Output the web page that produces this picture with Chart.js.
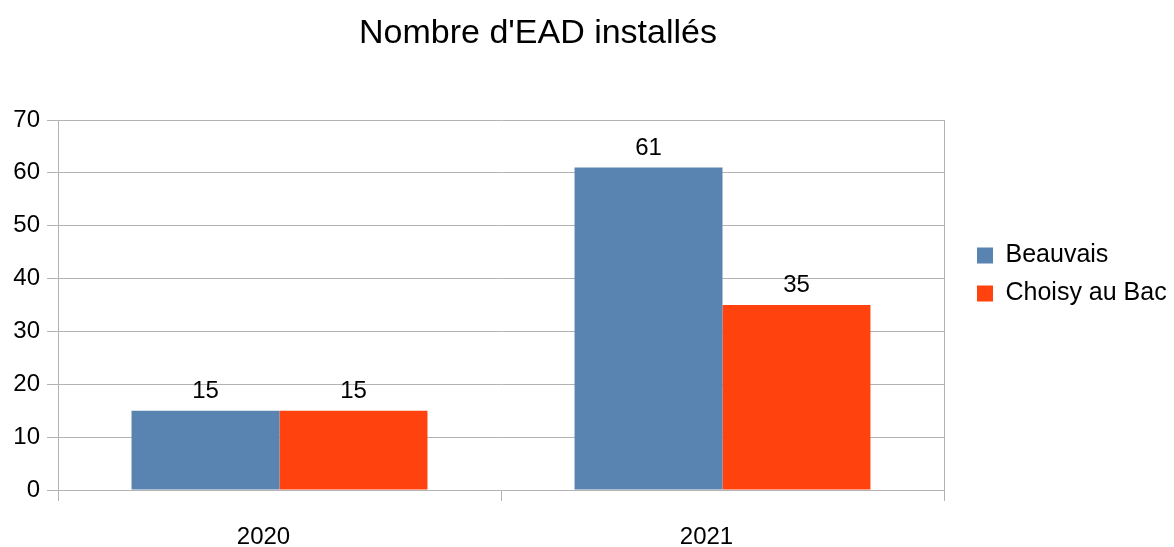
<!DOCTYPE html>
<html>
<head>
<meta charset="utf-8">
<script src="https://cdn.jsdelivr.net/npm/chart.js@4.4.1/dist/chart.umd.min.js"></script>
<style>
  html, body { margin: 0; padding: 0; background: #fff; }
  #wrap { width: 1174px; height: 547px; }
</style>
</head>
<body>
<div id="wrap"><canvas id="chart" width="1174" height="547"></canvas></div>
<script>
const chartTitle = "Nombre d'EAD installés";
const years = ['2020', '2021'];
const beauvais = [15, 61];
const choisy = [15, 35];
const yTicks = [0, 10, 20, 30, 40, 50, 60, 70];

const FONT = '"Liberation Sans", Arial, sans-serif';
const GRID = '#b3b3b3';

// title is drawn off-centre like the original, values above the bars
const extras = {
    id: 'extras',
    afterDraw(chart) {
        const ctx = chart.ctx;
        ctx.save();
        ctx.fillStyle = '#000';
        ctx.textAlign = 'center';
        ctx.textBaseline = 'alphabetic';
        ctx.font = '34px ' + FONT;
        ctx.fillText(chartTitle, 538, 43);

        ctx.font = '24px ' + FONT;
        chart.data.datasets.forEach((ds, i) => {
            const meta = chart.getDatasetMeta(i);
            meta.data.forEach((bar, j) => {
                ctx.fillText(String(ds.data[j]), bar.x, bar.y - 13);
            });
        });
        ctx.restore();
    }
};

function initChart() {
    const ctx = document.getElementById('chart').getContext('2d');
    Chart.defaults.font.family = FONT;
    Chart.defaults.color = '#000';

    new Chart(ctx, {
        type: 'bar',
        data: {
            labels: years,
            datasets: [
                { label: 'Beauvais', data: beauvais, backgroundColor: '#5983b0', categoryPercentage: 0.668, barPercentage: 1 },
                { label: 'Choisy au Bac', data: choisy, backgroundColor: '#ff420e', categoryPercentage: 0.668, barPercentage: 1 }
            ]
        },
        options: {
            responsive: false,
            animation: false,
            layout: { padding: { top: 120, left: 0, right: 0, bottom: 0 } },
            plugins: {
                title: { display: false },
                tooltip: { enabled: false },
                legend: {
                    position: 'right',
                    align: 'start',
                    fullSize: false,
                    maxWidth: 210,
                    title: { display: true, text: ' ', font: { size: 10, lineHeight: 1 }, padding: { top: 100, bottom: 0 } },
                    labels: { boxWidth: 16, boxHeight: 16, padding: 13, font: { size: 25 } }
                }
            },
            scales: {
                x: {
                    offset: true,
                    grid: { offset: true, drawOnChartArea: false, tickLength: 11, color: GRID },
                    border: { color: GRID },
                    ticks: { font: { size: 24 }, padding: 22, labelOffset: -16, maxRotation: 0 },
                    afterFit(s) { s.height = 57; }
                },
                y: {
                    min: 0, max: 70,
                    afterBuildTicks(s) { s.ticks = yTicks.map(v => ({ value: v })); },
                    grid: { color: GRID, tickLength: 11 },
                    border: { color: GRID },
                    ticks: { font: { size: 24 }, padding: 7 },
                    afterFit(s) { s.width = 58; }
                },
                yRight: {
                    position: 'right',
                    grid: { display: false },
                    ticks: { display: false },
                    border: { display: true, color: GRID },
                    afterFit(s) { s.width = 20; }
                }
            }
        },
        plugins: [extras]
    });
}

window.onload = initChart;
</script>
</body>
</html>
